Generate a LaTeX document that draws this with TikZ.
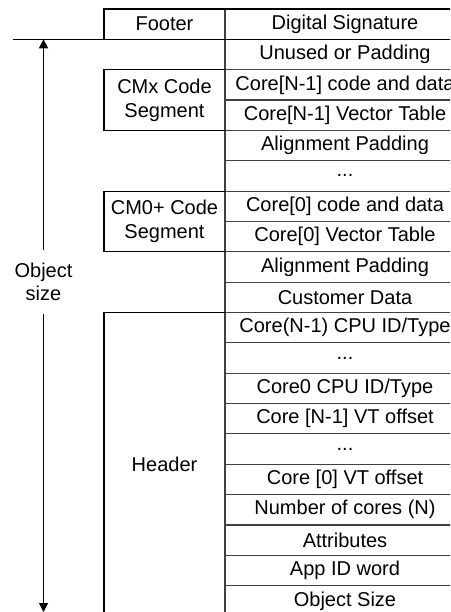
\documentclass[tikz,border=0pt]{standalone}
\usepackage{fontspec}
\setmainfont{Liberation Sans}
\usetikzlibrary{arrows.meta}
\begin{document}
\begin{tikzpicture}[x=1pt,y=-1pt,
  cell/.style={inner sep=0pt,font=\fontsize{20}{23.6}\selectfont,align=center,text=black},
  boxline/.style={draw=black,line width=1.1pt},
  rowline/.style={draw=black!75,line width=1.1pt},
  arr/.style={draw=black,line width=1.1pt,-{Triangle[length=9pt,width=9pt]}}]
\useasboundingbox (0,0) rectangle (450,612);
\clip (0,0) rectangle (450,612);
\def\rh{30.35}
\newcommand\rowy[1]{9+(#1+0.5)*\rh}
% right column labels
\node[cell] (r0) at (345,{\rowy{0}}) {Digital Signature};
\node[cell] (r1) at (345,{\rowy{1}}) {Unused or Padding};
\node[cell] (r2) at (345,{\rowy{2}}) {Core[N-1] code and data};
\node[cell] (r3) at (345,{\rowy{3}}) {Core[N-1] Vector Table};
\node[cell] (r4) at (345,{\rowy{4}}) {Alignment Padding};
\node[cell] (r5) at (345,{\rowy{5}}) {.\kern0pt.\kern0pt.};
\node[cell] (r6) at (345,{\rowy{6}}) {Core[0] code and data};
\node[cell] (r7) at (345,{\rowy{7}}) {Core[0] Vector Table};
\node[cell] (r8) at (345,{\rowy{8}}) {Alignment Padding};
\node[cell] (r9) at (345,{\rowy{9}}) {Customer Data};
\node[cell] (r10) at (345,{\rowy{10}}) {Core(N-1) CPU ID/Type};
\node[cell] (r11) at (345,{\rowy{11}}) {.\kern0pt.\kern0pt.};
\node[cell] (r12) at (345,{\rowy{12}}) {Core0 CPU ID/Type};
\node[cell] (r13) at (345,{\rowy{13}}) {Core [N-1] VT offset};
\node[cell] (r14) at (345,{\rowy{14}}) {.\kern0pt.\kern0pt.};
\node[cell] (r15) at (345,{\rowy{15}}) {Core [0] VT offset};
\node[cell] (r16) at (345,{\rowy{16}}) {Number of cores (N)};
\node[cell] (r17) at (345,{\rowy{17}}) {Attributes};
\node[cell] (r18) at (345,{\rowy{18}}) {App ID word};
\node[cell] (r19) at (345,{\rowy{19}}) {Object Size};
% row separator lines in right column
\foreach \i in {2,...,19}{
  \draw[rowline] (225,{9+\i*\rh}) -- (465,{9+\i*\rh});
}
% vertical divider
\draw[rowline] (225,9) -- (225,616);
% top line and footer box
\draw[boxline] (104,39.35) -- (104,9) -- (465,9);
\node[cell] (footer) at (164.5,24.2) {Footer};
% long line under footer
\coordinate (lstart) at (13,39.35);
\coordinate (lend) at (465,39.35);
\draw[boxline] (lstart) -- (lend);
% CMx box
\draw[boxline] (225,{9+2*\rh}) -- (104,{9+2*\rh}) -- (104,{9+4*\rh}) -- (225,{9+4*\rh});
\node[cell] (cmx) at (164.5,{9+3*\rh}) {CMx Code\\Segment};
% CM0+ box
\draw[boxline] (225,{9+6*\rh}) -- (104,{9+6*\rh}) -- (104,{9+8*\rh}) -- (225,{9+8*\rh});
\node[cell] (cm0) at (164.5,{9+7*\rh}) {CM0+ Code\\Segment};
% Header box
\draw[boxline] (225,{9+10*\rh}) -- (104,{9+10*\rh}) -- (104,620);
\node[cell] (hdr) at (164.5,464) {Header};
% object size arrows
\node[cell] (osize) at (43.5,282) {Object\\size};
\coordinate (atop) at (43.5,39.35);
\coordinate (abot) at (43.5,612);
\coordinate (a1) at (43.5,250);
\coordinate (a2) at (43.5,314);
\draw[arr] (a1) -- (atop);
\draw[arr] (a2) -- (abot);
\end{tikzpicture}
\end{document}
